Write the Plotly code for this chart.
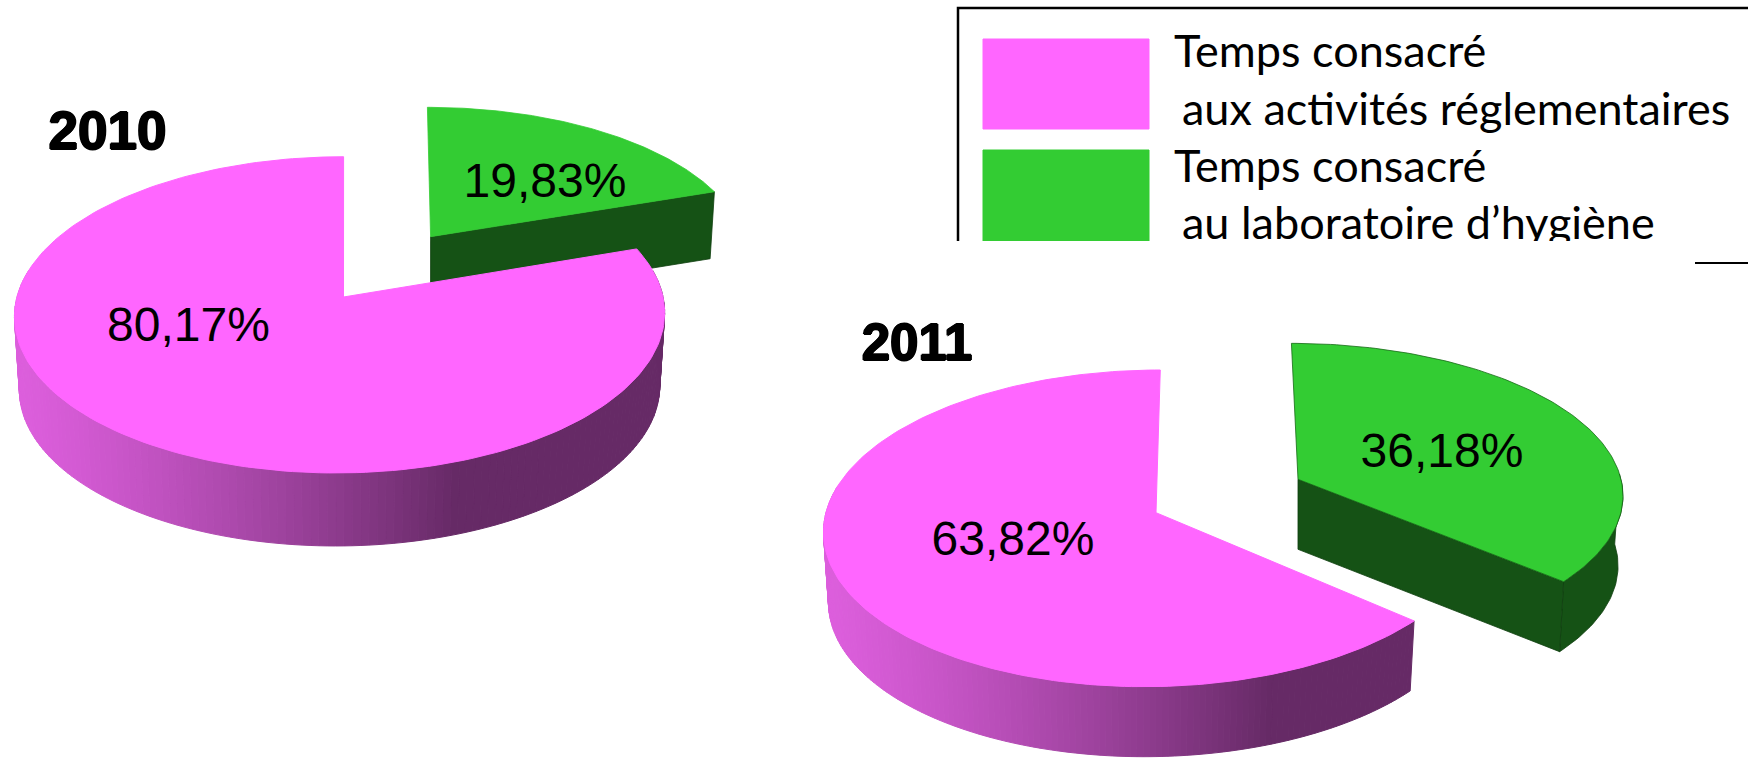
import math
import plotly.graph_objects as go

YEARS = ["2010", "2011"]
SHARE_REGULATORY = [80.17, 63.82]
SHARE_LAB = [19.83, 36.18]
LEGEND_LINES = ["Temps consacré", " aux activités réglementaires", "Temps consacré", " au laboratoire d’hygiène"]

PINK, GREEN, DARK_GREEN = "#FF66FF", "#33CC33", "#155215"
W, H = 1748, 759
CLIP_Y = 241

# Perspective of every slice: apex, radii, foreshortening, tilt, thickness
GEOM = {
    ("2010", "reg"): dict(ax=340, ay=297, R=323, S=156.1, p=.1129, sx=4, d=73, adx=3.5),
    ("2010", "lab"): dict(ax=427.4, ay=236.7, R=316, S=147, p=.136, sx=0, d=67, adx=3.2),
    ("2011", "reg"): dict(ax=1153, ay=512.7, R=327, S=156.8, p=.0988, sx=8, d=70, adx=3),
    ("2011", "lab"): dict(ax=1296, ay=479.3, R=325, S=148.8, p=.0944, sx=-5, d=70, adx=2),
}
LABEL_POS = {("2010", "reg"): (188.5, 329), ("2010", "lab"): (545, 185),
             ("2011", "reg"): (1013, 543), ("2011", "lab"): (1442, 455)}
YEAR_POS = {"2010": (107.5, 136, 53), "2011": (917, 347, 51)}


def rim(g, t):
    a = math.radians(t)
    u, v = math.sin(a), math.cos(a)
    w = 1 + g["p"] * v
    return g["ax"] + (g["R"] * u + g["sx"] * v) / w, g["ay"] - g["S"] * v / w


def low(g, pt):
    return g["ax"] + (pt[0] - g["ax"]) * .985, pt[1] + g["d"]


def arc(g, t0, t1, n=120):
    return [rim(g, t0 + (t1 - t0) * i / n) for i in range(n + 1)]


def poly(fig, pts, fill, line=None, lw=1, xa="x", ya="y"):
    xs = [p[0] for p in pts] + [pts[0][0]]
    ys = [p[1] for p in pts] + [pts[0][1]]
    fig.add_trace(go.Scatter(x=xs, y=ys, mode="lines", fill="toself", fillcolor=fill,
                             line=dict(color=line or fill, width=lw), hoverinfo="skip",
                             xaxis=xa, yaxis=ya))


def side_color(f):
    f = max(0, min(1, f)) ** 1.25
    a, b = (0xDC, 0x5E, 0xDC), (0x66, 0x2A, 0x66)
    return "rgb(%d,%d,%d)" % tuple(round(a[i] + (b[i] - a[i]) * f) for i in range(3))


fig = go.Figure()

for i, year in enumerate(YEARS):
    # laboratory slice: first the share clockwise from the top
    g = GEOM[(year, "lab")]
    end = 3.6 * SHARE_LAB[i]
    apex = (g["ax"] + g["adx"], g["ay"])
    e = rim(g, end)
    if end > 90:
        top = arc(g, 88, end, 40)
        poly(fig, top + [low(g, p) for p in reversed(top)], DARK_GREEN, "#0F3F0F", .8)
    poly(fig, [apex, e, low(g, e), low(g, apex)], DARK_GREEN, "#0F3F0F", .8)
    outline = "#166A16" if year == "2011" else GREEN
    poly(fig, [apex] + arc(g, 0, end), GREEN, outline, .8)

    # regulatory slice: the remainder of the disc
    g = GEOM[(year, "reg")]
    start = 360 - 3.6 * SHARE_REGULATORY[i]
    apex = (g["ax"] + g["adx"], g["ay"])
    left = g["ax"] - g["R"]
    span = 2 * g["R"] * .68
    t0, t1 = max(start, 80), 280
    n = 150
    for k in range(n):
        a = t0 + (t1 - t0) * k / n
        b = t0 + (t1 - t0) * (k + 1) / n
        pa, pb = rim(g, a), rim(g, b)
        col = side_color(((pa[0] + pb[0]) / 2 - left) / span)
        poly(fig, [pa, pb, low(g, pb), low(g, pa)], col)
    poly(fig, [apex] + arc(g, start, 360, 200), PINK)

# percentage labels
for i, year in enumerate(YEARS):
    for key, val in (("reg", SHARE_REGULATORY[i]), ("lab", SHARE_LAB[i])):
        x, y = LABEL_POS[(year, key)]
        fig.add_trace(go.Scatter(x=[x], y=[y], mode="text", text=[f"{val:.2f}%".replace(".", ",")],
                                 textposition="middle center", hoverinfo="skip",
                                 textfont=dict(family="Liberation Sans", size=48, color="black")))

# year titles
for year in YEARS:
    x, y, s = YEAR_POS[year]
    fig.add_trace(go.Scatter(x=[x], y=[y], mode="text", text=[f"<b>{year}</b>"],
                             textposition="middle center", hoverinfo="skip",
                             textfont=dict(family="Liberation Sans", size=s, color="black",
                                           shadow="1px 0 0 #000, -1px 0 0 #000, 0 1px 0 #000, 0 -1px 0 #000")))

# stray rule under the legend
fig.add_trace(go.Scatter(x=[1695, W], y=[263, 263], mode="lines", line=dict(color="black", width=2),
                         hoverinfo="skip"))

# legend, cropped at its lower edge by its own subplot
L = dict(xa="x2", ya="y2")
poly(fig, [(983, 39), (1149, 39), (1149, 129), (983, 129)], PINK, **L)
poly(fig, [(983, 150), (1149, 150), (1149, 260), (983, 260)], GREEN, **L)
fig.add_trace(go.Scatter(x=[958, 958, W], y=[260, 8, 8], mode="lines", line=dict(color="black", width=2.5),
                         hoverinfo="skip", xaxis="x2", yaxis="y2"))
for txt, x, y in zip(LEGEND_LINES, [1174, 1182, 1174, 1182], [56, 113.5, 171, 228]):
    fig.add_trace(go.Scatter(x=[x], y=[y], mode="text", text=[txt.strip()], textposition="middle right",
                             cliponaxis=True, hoverinfo="skip", xaxis="x2", yaxis="y2",
                             textfont=dict(family="Lato", size=45, color="black")))

ax = dict(visible=False, showgrid=False, zeroline=False, fixedrange=True)
fig.update_layout(
    width=W, height=H, margin=dict(l=0, r=0, t=0, b=0), showlegend=False,
    paper_bgcolor="white", plot_bgcolor="rgba(0,0,0,0)",
    xaxis=dict(range=[0, W], domain=[0, 1], **ax),
    yaxis=dict(range=[H, 0], domain=[0, 1], **ax),
    xaxis2=dict(range=[0, W], domain=[0, 1], anchor="y2", **ax),
    yaxis2=dict(range=[CLIP_Y, 0], domain=[1 - CLIP_Y / H, 1], anchor="x2", **ax),
)
fig.write_html("out.html", config={"displayModeBar": False},
               post_script="document.body.style.margin='0';document.body.style.overflow='hidden';")
